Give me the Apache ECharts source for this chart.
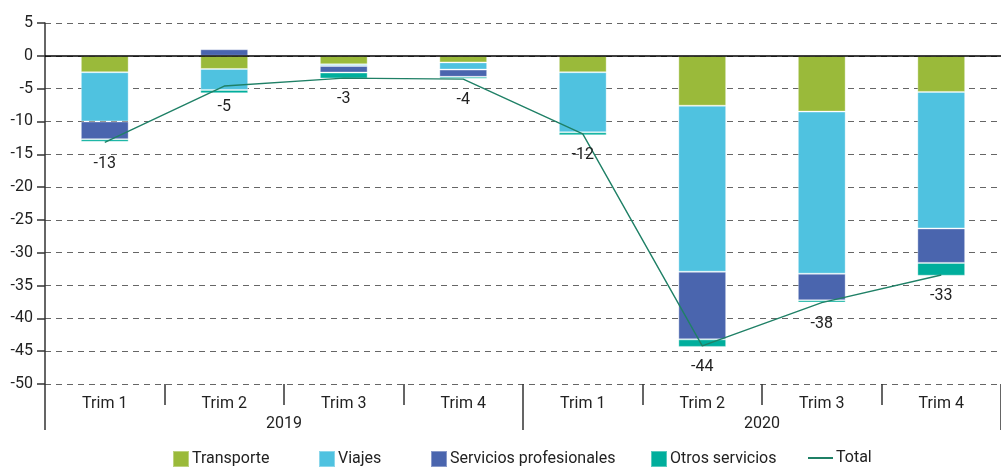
<!DOCTYPE html>
<html>
<head>
<meta charset="utf-8">
<script src="https://cdn.jsdelivr.net/npm/echarts@6/dist/echarts.min.js"></script>
<style>
  html, body {margin: 0; padding: 0; background: #fff;}
  #chart {width: 1001px; height: 467px;}
</style>
</head>
<body>
<div id="chart"></div>
<script>
// datos
const quarters = ['Trim 1', 'Trim 2', 'Trim 3', 'Trim 4', 'Trim 1', 'Trim 2', 'Trim 3', 'Trim 4'];
const years = ['2019', '2020'];
const transporte = [-2.5, -2.0, -1.3, -1.0, -2.5, -7.6, -8.5, -5.5];
const viajes = [-7.5, -3.2, -0.25, -1.1, -9.15, -25.3, -24.7, -20.8];
const serviciosProf = [-2.7, 1.0, -1.0, -1.1, 0.1, -10.3, -4.05, -5.25];
const otrosServicios = [-0.4, -0.5, -0.9, -0.3, -0.45, -1.15, -0.35, -1.95];
const total = [-13.2, -4.6, -3.4, -3.55, -11.9, -44.2, -37.6, -33.4];

const FONT = "Roboto, sans-serif";
const TXT = '#222';
const FS = 16;

let chart = echarts.init(document.getElementById('chart'));

function barSerie(name, data, color) {
  return {
    name: name,
    type: 'bar',
    stack: 'total',
    barWidth: '40%',
    data: data,
    itemStyle: {color: color, borderColor: 'rgba(255,255,255,0.35)', borderWidth: 1},
    emphasis: {disabled: true}
  }
}

function legendAt(name, left, isLine) {
  return {
    data: [name],
    left: left,
    top: 450,
    padding: 0,
    itemWidth: isLine ? 25 : 16,
    itemHeight: isLine ? 2 : 16,
    itemGap: 0,
    icon: 'rect',
    selectedMode: false,
    textStyle: {fontFamily: FONT, fontSize: FS, color: TXT, padding: [0, 0, 0, -2]}
  }
}

chart.setOption({
  animation: false,
  textStyle: {fontFamily: FONT},
  grid: {left: 45, right: 0, top: 23, bottom: 83, containLabel: false},
  legend: [
    legendAt('Transporte', 172),
    legendAt('Viajes', 318),
    legendAt('Servicios profesionales', 430),
    legendAt('Otros servicios', 650),
    legendAt('Total', 808, true)
  ],
  xAxis: [{
    type: 'category',
    data: quarters,
    position: 'bottom',
    axisLine: {show: false, onZero: false},
    axisTick: {show: true, interval: 0, length: 21, lineStyle: {color: '#333', width: 1.5}},
    axisLabel: {interval: 0, margin: 12, fontSize: FS, color: TXT, fontFamily: FONT},
    splitLine: {show: false}
  }, {
    type: 'category',
    data: years,
    position: 'bottom',
    axisLine: {show: false, onZero: false},
    axisTick: {show: true, interval: 0, length: 46, lineStyle: {color: '#333', width: 1.5}},
    axisLabel: {interval: 0, margin: 32, fontSize: FS, color: TXT, fontFamily: FONT},
    splitLine: {show: false}
  }],
  yAxis: {
    type: 'value',
    min: -50,
    max: 5,
    interval: 5,
    axisLine: {show: true, lineStyle: {color: '#333', width: 1.5}},
    axisTick: {show: true, length: 8, lineStyle: {color: '#333', width: 1.5}},
    axisLabel: {margin: 12, fontSize: FS, color: TXT, fontFamily: FONT},
    splitLine: {show: true, lineStyle: {color: '#666', type: [6, 5], width: 1.2}}
  },
  series: [
    barSerie('Transporte', transporte, '#9aba3a'),
    barSerie('Viajes', viajes, '#4fc2e0'),
    barSerie('Servicios profesionales', serviciosProf, '#4a65ae'),
    Object.assign(barSerie('Otros servicios', otrosServicios, '#00ae9c'), {
      markLine: {
        silent: true,
        symbol: 'none',
        label: {show: false},
        lineStyle: {color: '#000', type: 'solid', width: 1.5},
        data: [{yAxis: 0}]
      }
    }),
    {
      name: 'Total',
      type: 'line',
      data: total,
      z: 5,
      symbol: 'circle',
      symbolSize: 0.1,
      showSymbol: true,
      lineStyle: {color: '#1f8066', width: 1.4},
      itemStyle: {color: '#1f8066'},
      label: {
        show: true,
        position: 'bottom',
        distance: 13,
        fontSize: FS,
        color: TXT,
        fontFamily: FONT,
        formatter: (p) => p.value.toFixed(0)
      },
      emphasis: {disabled: true}
    }
  ]
});
</script>
</body>
</html>
